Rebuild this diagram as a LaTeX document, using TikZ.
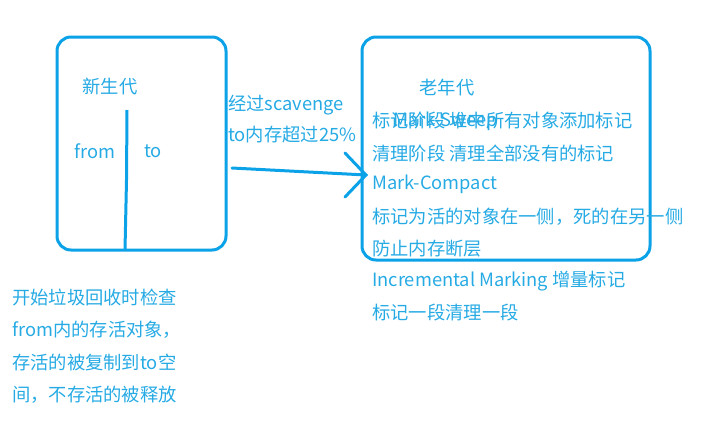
\documentclass[tikz,border=0pt]{standalone}
\usepackage{fontspec}
\setmainfont{Noto Sans CJK SC}
\definecolor{linec}{RGB}{12,162,232}
\definecolor{textc}{RGB}{38,170,228}
\begin{document}
\begin{tikzpicture}[x=1pt,y=-1pt,
  box/.style={draw=linec,line width=3pt,rounded corners=14pt,inner sep=0pt},
  txt/.style={text=textc,font=\fontsize{18.3}{21}\selectfont,inner sep=0pt,anchor=west},
  ln/.style={draw=linec,line width=3pt,line cap=round}]
\useasboundingbox (0,0) rectangle (718,429);
% boxes
\node[box,minimum width=169pt,minimum height=213pt] (young) at (141.5,143.5) {};
\node[box,minimum width=288pt,minimum height=223pt] (old) at (506,148.5) {};
% young generation
\node[txt,anchor=center] (yt) at (110,87) {新生代};
\coordinate (dtop) at (127,110);
\coordinate (dmid) at (126.5,180);
\coordinate (dbot) at (125,250);
\draw[ln,line cap=butt] (dtop) -- (dmid) -- (dbot);
\node[txt,anchor=center] (from) at (95,151) {from};
\node[txt,anchor=center] (to) at (153,151) {to};
% arrow text
\node[txt] (a1) at (228,105) {经过scavenge};
\node[txt] (a2) at (228,135) {to内存超过25\%};
\coordinate (astart) at (232,168);
\coordinate (tip) at (366,175);
\coordinate (hup) at (345,153);
\coordinate (hdn) at (345,197);
\draw[ln] (astart) -- (tip);
\draw[ln] (hup) -- (tip) -- (hdn);
% old generation
\node[txt,anchor=center] (ot) at (447,88) {老年代};
\node[txt] (o0) at (393,121) {Mark-Sweep};
\node[txt] (o1) at (372,121) {标记阶段 堆中所有对象添加标记};
\node[txt] (o2) at (372,153) {清理阶段 清理全部没有的标记};
\node[txt] (o3) at (372,184) {Mark-Compact};
\node[txt] (o4) at (372,217) {标记为活的对象在一侧，死的在另一侧};
\node[txt] (o5) at (372,249) {防止内存断层};
\node[txt] (o6) at (372,281) {Incremental Marking 增量标记};
\node[txt] (o7) at (372,313) {标记一段清理一段};
% bottom left
\node[txt] (b1) at (12,298) {开始垃圾回收时检查};
\node[txt] (b2) at (12,330) {from内的存活对象，};
\node[txt] (b3) at (12,362) {存活的被复制到to空};
\node[txt] (b4) at (12,395) {间，不存活的被释放};
\end{tikzpicture}
\end{document}
